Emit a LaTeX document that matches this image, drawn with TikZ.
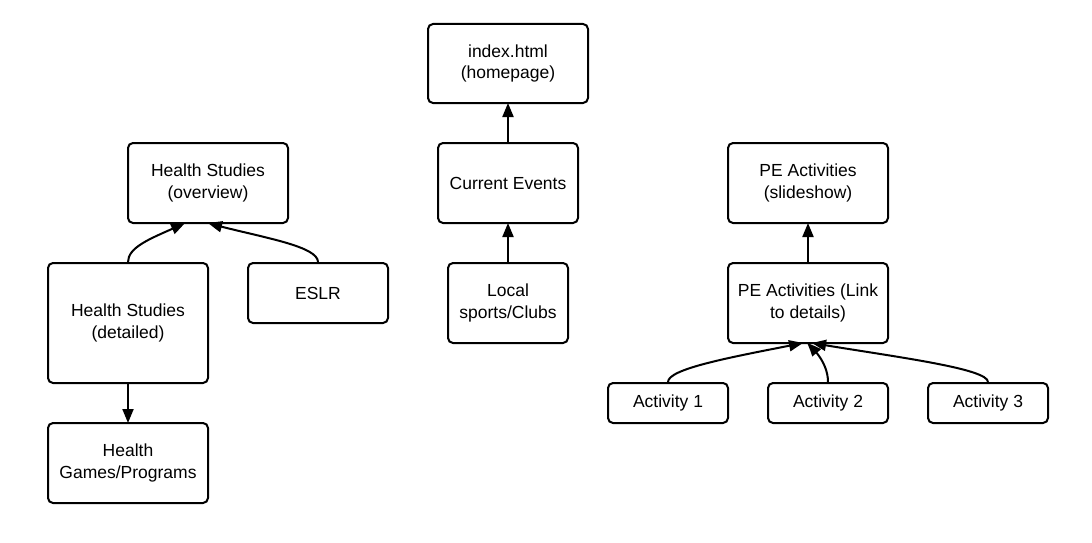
\documentclass[tikz,border=0pt]{standalone}
\usepackage{fontspec}
\setmainfont{Liberation Sans}
\usetikzlibrary{arrows.meta,calc,bending}
\begin{document}
\begin{tikzpicture}[x=1pt,y=-1pt,
  box/.style={draw=black,line width=2pt,rounded corners=5pt,inner sep=0pt,align=center,
    font=\fontsize{17.5}{21.5}\selectfont,fill=white},
  conn/.style={line width=2pt,-{Triangle[length=14pt,width=11pt,bend]}}]
\useasboundingbox (0,0) rectangle (1092,543);
\fill[white] (0,0) rectangle (1092,543);
% center column
\node[box,minimum width=160pt,minimum height=79pt] (idx) at (508,63.5) {index.html\\(homepage)};
\node[box,minimum width=140pt,minimum height=80pt] (ce) at (508,183) {Current Events};
\node[box,minimum width=120pt,minimum height=80pt] (ls) at (508,303) {Local\\sports/Clubs};
% left column
\node[box,minimum width=160pt,minimum height=80pt] (ov) at (208,183) {Health Studies\\(overview)};
\node[box,minimum width=160pt,minimum height=120pt] (hd) at (128,323) {Health Studies\\(detailed)};
\node[box,minimum width=140pt,minimum height=60pt] (es) at (318,293) {ESLR};
\node[box,minimum width=160pt,minimum height=80pt] (hg) at (128,463) {Health\\Games/Programs};
% right column
\node[box,minimum width=160pt,minimum height=80pt] (pes) at (808,183) {PE Activities\\(slideshow)};
\node[box,minimum width=160pt,minimum height=80pt] (pel) at (808,303) {PE Activities (Link\\to details)};
\node[box,minimum width=120pt,minimum height=40pt] (a1) at (668,403) {Activity 1};
\node[box,minimum width=120pt,minimum height=40pt] (a2) at (828,403) {Activity 2};
\node[box,minimum width=120pt,minimum height=40pt] (a3) at (988,403) {Activity 3};
% connectors
\draw[conn] (ce.north) -- ([yshift=1pt]idx.south);
\draw[conn] (ls.north) -- ([yshift=1pt]ce.south);
\draw[conn] (pel.north) -- ([yshift=1pt]pes.south);
\draw[conn] (hd.south) -- ([yshift=-1pt]hg.north);
\draw[conn] (hd.north) .. controls ($(hd.north)+(0,-17)$) and ($(ov.south)+(-50,12)$) .. ([xshift=-23pt,yshift=1pt]ov.south);
\draw[conn] (es.north) .. controls ($(es.north)+(0,-17)$) and ($(ov.south)+(45,12)$) .. ([xshift=0pt,yshift=1pt]ov.south);
\draw[conn] (a1.north) .. controls ($(a1.north)+(0,-14)$) and ($(pel.south)+(-70,12)$) .. ([xshift=-5pt,yshift=1pt]pel.south);
\draw[conn] (a2.north) .. controls ($(a2.north)+(0,-14)$) and ($(pel.south)+(12,10)$) .. ([xshift=-1pt,yshift=1pt]pel.south);
\draw[conn] (a3.north) .. controls ($(a3.north)+(0,-14)$) and ($(pel.south)+(80,12)$) .. ([xshift=4pt,yshift=1pt]pel.south);
\end{tikzpicture}
\end{document}
